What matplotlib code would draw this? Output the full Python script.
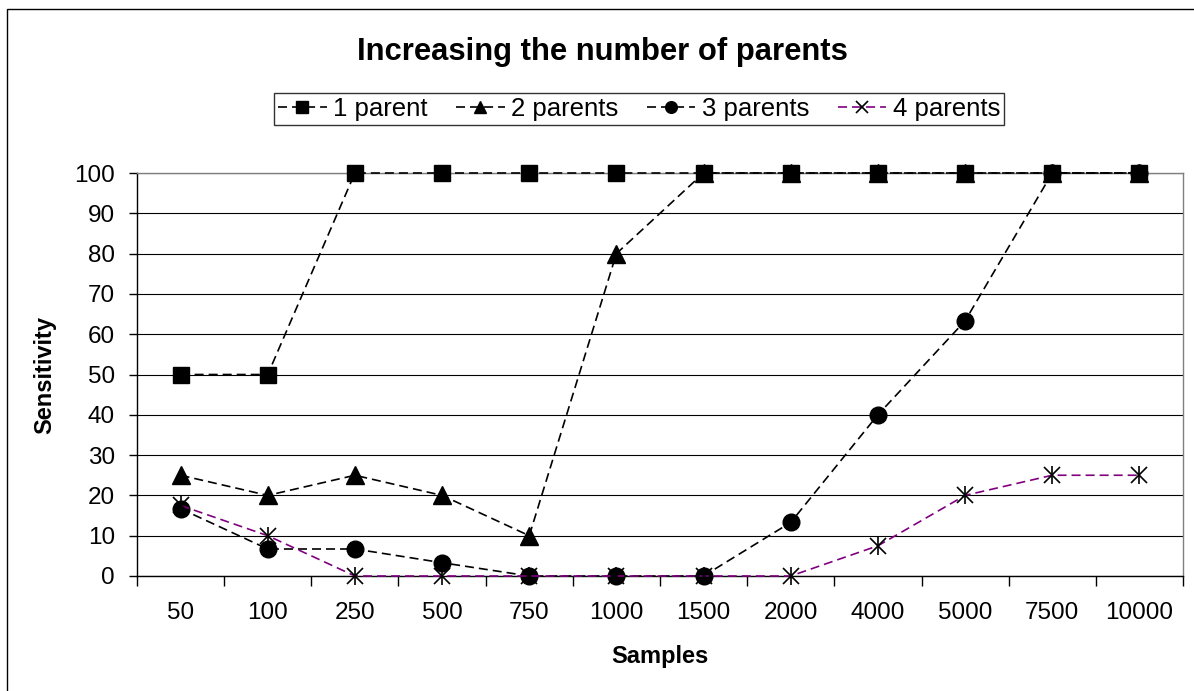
import matplotlib
matplotlib.use("Agg")
import matplotlib.pyplot as plt
from matplotlib.patches import Rectangle
from matplotlib.ticker import FixedLocator, NullFormatter

plt.rcParams["font.family"] = ["Liberation Sans", "DejaVu Sans"]
plt.rcParams["lines.scale_dashes"] = False

samples = ["50", "100", "250", "500", "750", "1000", "1500", "2000",
           "4000", "5000", "7500", "10000"]
one_parent = [50, 50, 100, 100, 100, 100, 100, 100, 100, 100, 100, 100]
two_parents = [25, 20, 25, 20, 10, 80, 100, 100, 100, 100, 100, 100]
three_parents = [16.7, 6.7, 6.7, 3.3, 0, 0, 0, 13.3, 40, 63.3, 100, 100]
four_parents = [17.5, 10, 0, 0, 0, 0, 0, 0, 7.5, 20, 25, 25]
y_ticks = list(range(0, 101, 10))

W, H = 1194, 691
fig = plt.figure(figsize=(W / 100, H / 100), dpi=100)
fig.patch.set_facecolor("white")

# chart-area frame (left and top edges show)
fig.patches.append(Rectangle((7 / W, -0.2), 1.5, (H - 9) / H + 0.2,
                             transform=fig.transFigure, fill=False,
                             edgecolor="black", lw=1.0))

ax = fig.add_axes([137 / W, 115 / H, (1183 - 137) / W, (576 - 173) / H])
x = list(range(len(samples)))

dash = (6.5, 3.6)
common = dict(lw=1.2, markeredgecolor="black", markerfacecolor="black",
              dashes=dash, clip_on=False)
ax.plot(x, one_parent, color="black", marker="s", ms=11.5, label="1 parent",
        zorder=3, **common)
ax.plot(x, two_parents, color="black", marker="^", ms=12.5, label="2 parents",
        zorder=4, **common)
ax.plot(x, three_parents, color="black", marker="o", ms=12, label="3 parents",
        zorder=5, **common)
ax.plot(x, four_parents, color="#800080", marker="x", ms=11.5, mew=1.2,
        label="4 parents", zorder=6, lw=1.2, markeredgecolor="black",
        dashes=dash, clip_on=False)
# asterisk: add vertical stroke to the x marker
ax.plot(x, four_parents, linestyle="none", marker="|", ms=12.5, mew=1.2,
        color="black", zorder=6, clip_on=False)

ax.set_xlim(-0.5, len(samples) - 0.5)
ax.set_ylim(0, 100)
ax.set_yticks(y_ticks)
ax.yaxis.grid(True, color="black", lw=0.8)
ax.set_axisbelow(True)

ax.xaxis.set_major_locator(FixedLocator([i - 0.5 for i in range(len(samples) + 1)]))
ax.xaxis.set_major_formatter(NullFormatter())
ax.set_xticks(x, minor=True)
ax.set_xticklabels(samples, minor=True)
ax.tick_params(axis="x", which="major", length=7, width=1, direction="out")
ax.tick_params(axis="x", which="minor", length=0, pad=19, labelsize=17.5)
ax.tick_params(axis="y", length=6, width=1, direction="out", pad=10, labelsize=17.5)

for side in ("top", "right"):
    ax.spines[side].set_color("#808080")
    ax.spines[side].set_linewidth(1.0)
for side in ("left", "bottom"):
    ax.spines[side].set_color("black")
    ax.spines[side].set_linewidth(1.0)

ax.set_ylabel("Sensitivity", fontsize=17, fontweight="bold", labelpad=13)
ax.set_xlabel("Samples", fontsize=17, fontweight="bold", labelpad=15)

fig.text(602 / W, 1 - 52 / H, "Increasing the number of parents",
         fontsize=22.3, fontweight="bold", ha="center", va="center")

handles, labels = ax.get_legend_handles_labels()
leg = fig.legend(handles, labels, loc="center", ncol=4,
                 bbox_to_anchor=(639 / W, 1 - 109 / H), fontsize=18.5,
                 frameon=True, fancybox=False, edgecolor="black",
                 handlelength=1.9, handletextpad=0.25, columnspacing=1.1,
                 markerscale=0.7, borderpad=0.15, borderaxespad=0)
leg.get_frame().set_linewidth(1.0)

fig.savefig("out.png", dpi=100, facecolor="white")
